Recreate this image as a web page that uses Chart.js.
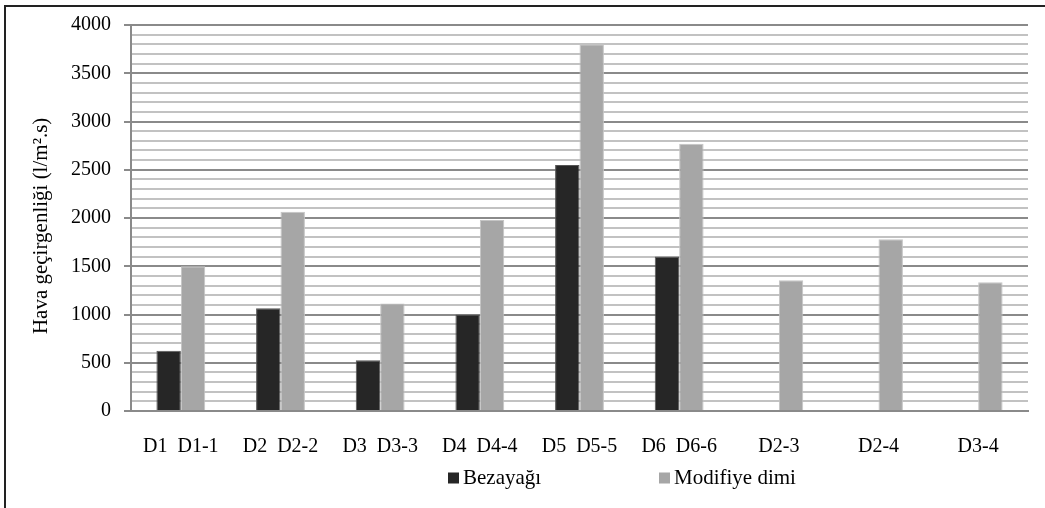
<!DOCTYPE html>
<html>
<head>
<meta charset="utf-8">
<script src="https://cdn.jsdelivr.net/npm/chart.js@4/dist/chart.umd.min.js"></script>
<style>
  html, body { margin: 0; padding: 0; background: #fff; }
  #wrap { width: 1045px; height: 508px; }
</style>
</head>
<body>
<div id="wrap"><canvas id="chart"></canvas></div>
<script>
const categories = ['D1  D1-1', 'D2  D2-2', 'D3  D3-3', 'D4  D4-4', 'D5  D5-5', 'D6  D6-6', 'D2-3', 'D2-4', 'D3-4'];
const bezayagi = [625, 1065, 525, 1000, 2550, 1600, null, null, null];
const modifiyeDimi = [1500, 2065, 1115, 1980, 3800, 2770, 1355, 1780, 1335];
const seriesNames = ['Bezayağı', 'Modifiye dimi'];
const yTitle = 'Hava geçirgenliği (l/m².s)';

const FONT = 'Liberation Serif';

// frame + legend drawn by hand so the legend can sit where the original has it
const framePlugin = {
  id: 'frame',
  afterDraw(chart) {
    const ctx = chart.ctx;
    ctx.save();
    ctx.strokeStyle = '#222';
    ctx.lineWidth = 2;
    ctx.strokeRect(5, 6, 1100, 600);

    const ca = chart.chartArea;
    const y = ca.bottom + 67;
    const starts = [ca.left + 317, ca.left + 528];
    ctx.font = '21px "' + FONT + '"';
    ctx.textBaseline = 'middle';
    chart.data.datasets.forEach((ds, i) => {
      ctx.fillStyle = ds.backgroundColor;
      ctx.fillRect(starts[i], y - 5.5, 11, 11);
      ctx.fillStyle = '#000';
      ctx.fillText(ds.label, starts[i] + 15, y);
    });
    ctx.restore();
  }
};

new Chart(document.getElementById('chart'), {
  type: 'bar',
  data: {
    labels: categories,
    datasets: [
      {
        label: seriesNames[0],
        data: bezayagi,
        backgroundColor: '#262626',
        borderColor: '#555',
        borderWidth: 1
      },
      {
        label: seriesNames[1],
        data: modifiyeDimi,
        backgroundColor: '#a6a6a6',
        borderColor: '#c4c4c4',
        borderWidth: 1
      }
    ]
  },
  options: {
    responsive: true,
    maintainAspectRatio: false,
    animation: false,
    layout: { padding: { left: 0, right: 17, top: 23, bottom: 0 } },
    datasets: { bar: { categoryPercentage: 0.49, barPercentage: 1 } },
    plugins: {
      legend: { display: false },
      tooltip: { enabled: false }
    },
    scales: {
      x: {
        grid: { display: false, drawTicks: false },
        border: { display: true, color: '#8a8a8a', width: 2 },
        ticks: {
          color: '#000',
          font: { family: FONT, size: 20 },
          padding: 24,
          maxRotation: 0,
          autoSkip: false
        },
        afterFit(scale) { scale.height = 97; }
      },
      y: {
        min: 0,
        max: 4000,
        grid: {
          color: c => (c.tick.value % 500 === 0 ? '#8a8a8a' : '#c2c2c2'),
          lineWidth: 2,
          tickLength: 7,
          tickColor: c => (c.tick.value % 500 === 0 ? '#8a8a8a' : 'rgba(0,0,0,0)')
        },
        border: { display: true, color: '#8a8a8a', width: 2 },
        ticks: {
          stepSize: 100,
          autoSkip: false,
          color: '#000',
          font: { family: FONT, size: 20 },
          padding: 13,
          callback: v => (v % 500 === 0 ? String(v) : '')
        },
        title: {
          display: true,
          // trailing spaces nudge the rotated title down a bit, as in the original
          text: yTitle + '\u00a0\u00a0\u00a0',
          color: '#000',
          font: { family: FONT, size: 21 },
          padding: { top: 29, bottom: 0 }
        },
        afterFit(scale) { scale.width = 131; }
      }
    }
  },
  plugins: [framePlugin]
});
</script>
</body>
</html>
